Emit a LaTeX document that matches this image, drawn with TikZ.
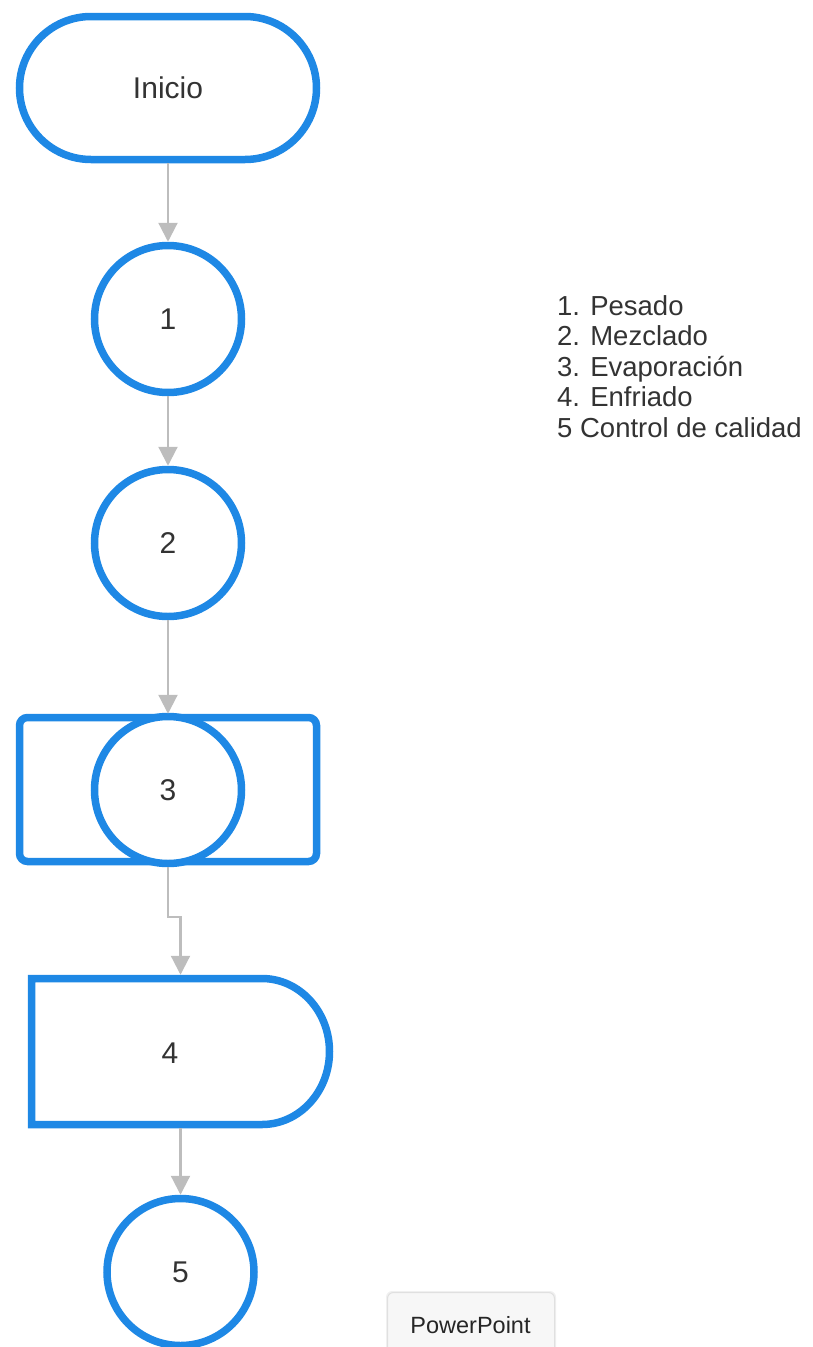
\documentclass[tikz,border=0pt]{standalone}
\usepackage{fontspec}
\setmainfont{Liberation Sans}
\usetikzlibrary{arrows.meta,shapes.misc}
\definecolor{fcblue}{HTML}{1E88E5}
\definecolor{conngray}{HTML}{BDBDBD}
\definecolor{txt}{HTML}{333333}
\tikzset{
  shapeline/.style={draw=fcblue, line width=7.5pt, fill=white, text=txt, font=\fontsize{30}{34}\selectfont},
  procircle/.style={shapeline, circle, minimum size=147pt, inner sep=0pt},
  conn/.style={draw=conngray, line width=2.2pt, -{Triangle[width=19pt,length=19pt]}},
  legend/.style={anchor=base west, inner sep=0pt, text=txt, font=\fontsize{27.5}{31}\selectfont},
}
\begin{document}
\begin{tikzpicture}[x=1pt,y=1pt]
\useasboundingbox (0,0) rectangle (813,-1347);
\clip (0,0) rectangle (813,-1347);

% start terminal
\node[shapeline, rounded rectangle, minimum width=297pt, minimum height=143pt, inner sep=0pt] (inicio) at (168,-88) {Inicio};

% circles 1 and 2
\node[procircle] (c1) at (168,-319) {1};
\node[procircle] (c2) at (168,-543) {2};

% step 3: rounded rectangle with circle
\node[shapeline, rectangle, rounded corners=8pt, minimum width=297pt, minimum height=144pt, inner sep=0pt] (r3) at (168,-789.5) {};
\node[procircle] (c3) at (168,-790) {3};

% step 4: delay shape
\draw[draw=fcblue, line width=7.5pt, fill=white] (31.5,-978.5) -- (262,-978.5)
  arc[start angle=90, end angle=-90, x radius=67.5, y radius=73] -- (31.5,-1124.5) -- cycle;
\node[minimum width=298pt, minimum height=146pt, inner sep=0pt, outer sep=3.75pt] (n4) at (180.5,-1051.5) {};
\node[text=txt, font=\fontsize{30}{34}\selectfont, inner sep=0pt] (l4) at (170,-1053) {4};

% circle 5
\node[procircle] (c5) at (180.5,-1272) {5};

% connectors
\coordinate (bend) at (180.5,-917);
\draw[conn] (inicio.south) -- (c1.north);
\draw[conn] (c1.south) -- (c2.north);
\draw[conn] (c2.south) -- (r3.north);
\draw[conn] (c3.south) |- (bend) -- (n4.north);
\draw[conn] (n4.south) -- (c5.north);

% legend
\node[legend] (t1) at (557,-315) {1. Pesado};
\node[legend] (t2) at (557,-345.5) {2. Mezclado};
\node[legend] (t3) at (557,-376) {3. Evaporación};
\node[legend] (t4) at (557,-406.5) {4. Enfriado};
\node[legend] (t5) at (557,-437) {5 Control de calidad};

% PowerPoint tag
\fill[black!6, rounded corners=6pt] (386,-1291) rectangle (556,-1370);
\draw[draw=black!12, fill=black!3, rounded corners=6pt, line width=1pt] (387.5,-1292.5) rectangle (554.5,-1370);
\node[anchor=base, inner sep=0pt, text=black!85, font=\fontsize{23.5}{27}\selectfont] (pp) at (470.5,-1333) {PowerPoint};
\end{tikzpicture}
\end{document}
